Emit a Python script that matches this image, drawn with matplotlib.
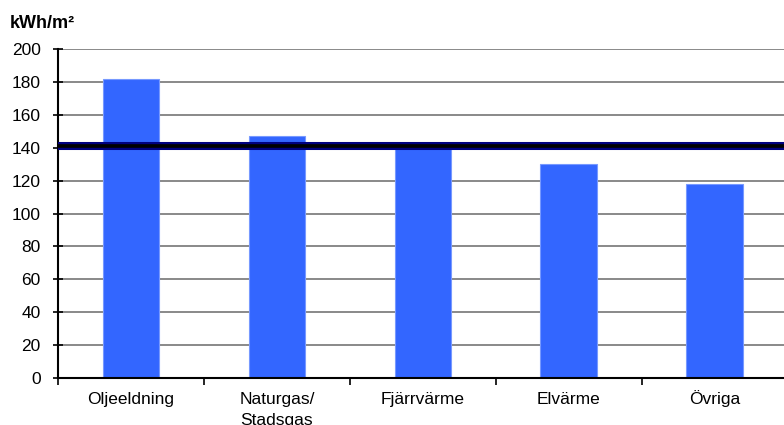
import matplotlib.pyplot as plt
import numpy as np

plt.rcParams['font.family'] = ['Liberation Sans', 'DejaVu Sans']

categories = ["Oljeeldning", "Naturgas/\nStadsgas", "Fjärrvärme", "Elvärme", "Övriga"]
values = [182, 147, 143, 130, 118]
average = 141
yticks = list(range(0, 201, 20))

fig = plt.figure(figsize=(7.84, 4.25), dpi=100)
ax = fig.add_axes([0.074, 0.1106, 0.931, 0.774])

x = np.arange(len(categories))
ax.bar(x, values, width=0.39, color="#3366FF", edgecolor="#7799FF", linewidth=0.8, zorder=2)

# reference line: navy edges, black core
ax.axhline(average, color="#000080", linewidth=5.8, zorder=3)
ax.axhline(average, color="black", linewidth=2.6, zorder=4)

ax.set_xlim(-0.5, len(categories) - 0.5)
ax.set_ylim(0, 200)
ax.set_yticks(yticks)
ax.yaxis.grid(True, color="#808080", linewidth=1.3, zorder=0)
ax.set_axisbelow(True)

# category labels, one line at a time so baselines line up
fs = 12.5
pitch = 15.1
ax.set_xticks(x)
ax.set_xticklabels([])
for xi, lab in zip(x, categories):
    for i, line in enumerate(lab.split("\n")):
        ax.annotate(line, (xi, 0), xycoords=("data", "axes fraction"),
                    xytext=(0, -18.7 - i * pitch), textcoords="offset points",
                    ha="center", va="baseline", fontsize=fs,
                    annotation_clip=False)
ax.set_xticks(np.arange(-0.5, len(categories)), minor=True)
ax.tick_params(axis="x", which="major", length=0)
ax.tick_params(axis="x", which="minor", length=5, width=1.2, direction="out")
ax.tick_params(axis="y", labelsize=12.5, length=7, width=1.2, direction="inout", pad=9)

for s in ["top", "right"]:
    ax.spines[s].set_visible(False)
for s in ["left", "bottom"]:
    ax.spines[s].set_linewidth(1.5)
    ax.spines[s].set_color("black")

fig.text(0.012, 0.935, "kWh/m²", fontsize=13, fontweight="bold")

fig.savefig("out.png", dpi=100)
